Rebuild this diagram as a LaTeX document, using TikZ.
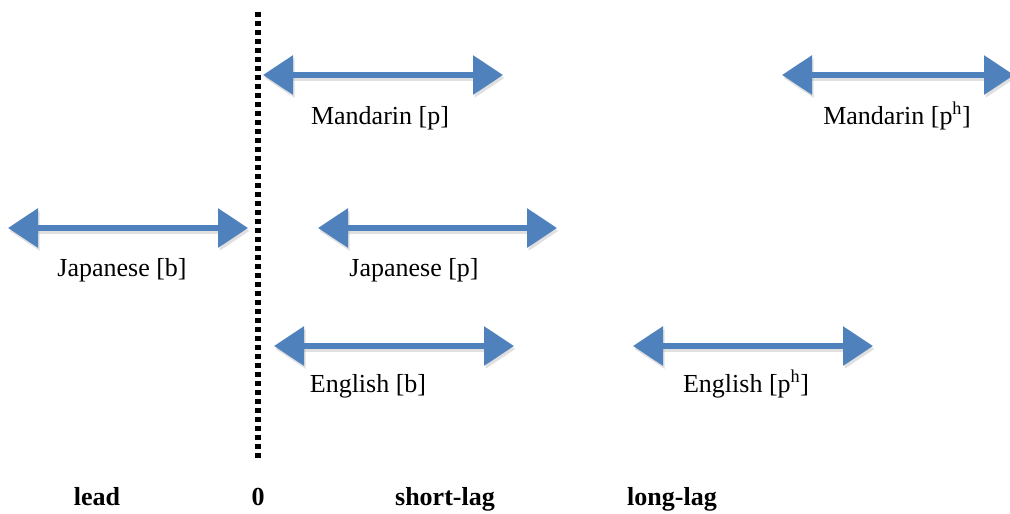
\documentclass[tikz,border=0pt]{standalone}
\usepackage{fontspec}
\setmainfont{Liberation Serif}
\usetikzlibrary{arrows.meta}
\definecolor{arrblue}{HTML}{4F81BD}
\tikzset{
  rangearrow/.style={draw=arrblue, line width=6pt, {Triangle[length=30pt,width=38pt]}-{Triangle[length=30pt,width=38pt]}},
  rangeshadow/.style={draw=black!35, opacity=0.35, line width=6pt, {Triangle[length=30pt,width=38pt]}-{Triangle[length=30pt,width=38pt]}},
  lbl/.style={font=\fontsize{26}{30}\selectfont, inner sep=0pt, anchor=base},
  axislbl/.style={font=\fontsize{26}{30}\selectfont\bfseries, inner sep=0pt, anchor=base},
  zeroline/.style={draw=black, line width=6pt, dash pattern=on 5pt off 4pt}
}
\begin{document}
\begin{tikzpicture}[x=1pt,y=-1pt]
\useasboundingbox (0,0) rectangle (1010,514);
% zero line
\coordinate (z1) at (258,12);
\coordinate (z2) at (258,458);
\draw[zeroline] (z1) -- (z2);
% arrow end points
\coordinate (mpL) at (263,75);  \coordinate (mpR) at (503,75);
\coordinate (mhL) at (782,75);  \coordinate (mhR) at (1014,75);
\coordinate (jbL) at (8,228);   \coordinate (jbR) at (248,228);
\coordinate (jpL) at (318,228); \coordinate (jpR) at (557,228);
\coordinate (ebL) at (274,346); \coordinate (ebR) at (514,346);
\coordinate (ehL) at (633,346); \coordinate (ehR) at (873,346);
% shadows
\foreach \a/\b in {mpL/mpR,mhL/mhR,jbL/jbR,jpL/jpR,ebL/ebR,ehL/ehR}{
  \draw[rangeshadow] ([shift={(1.5,3)}]\a) -- ([shift={(1.5,3)}]\b);
}
\draw[rangearrow] (mpL) -- (mpR);
\draw[rangearrow] (mhL) -- (mhR);
\draw[rangearrow] (jbL) -- (jbR);
\draw[rangearrow] (jpL) -- (jpR);
\draw[rangearrow] (ebL) -- (ebR);
\draw[rangearrow] (ehL) -- (ehR);
% labels
\node[lbl] (mp) at (380,124) {Mandarin [p]};
\node[lbl] (mh) at (897,124) {Mandarin [p\textsuperscript{h}]};
\node[lbl] (jb) at (122,276) {Japanese [b]};
\node[lbl] (jp) at (414,276) {Japanese [p]};
\node[lbl] (eb) at (368,392) {English [b]};
\node[lbl] (eh) at (746,392) {English [p\textsuperscript{h}]};
% axis labels
\node[axislbl] (lead) at (97,505) {lead};
\node[axislbl] (zero) at (258,505) {0};
\node[axislbl] (short) at (445,505) {short-lag};
\node[axislbl] (long) at (672,505) {long-lag};
\end{tikzpicture}
\end{document}
